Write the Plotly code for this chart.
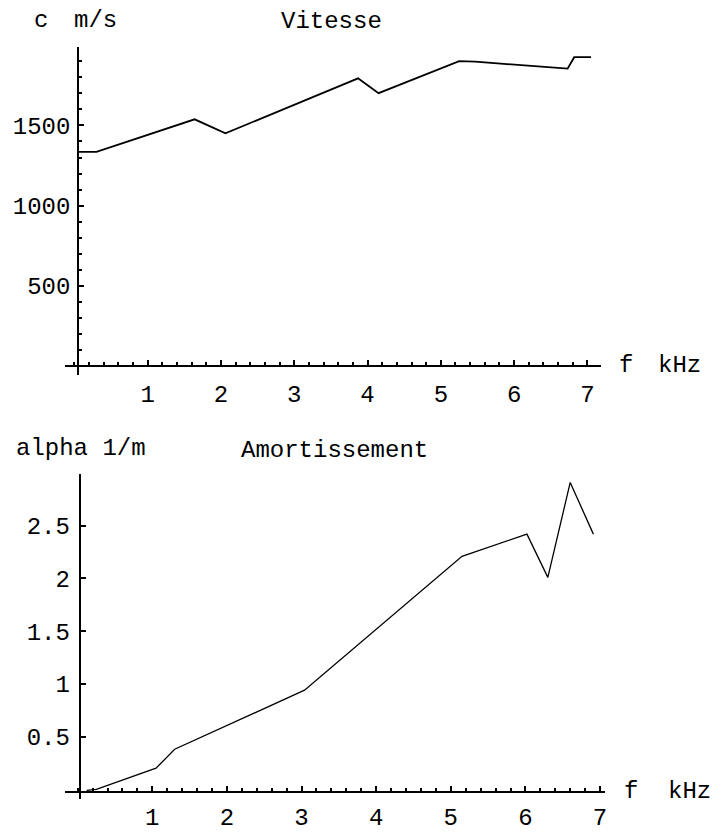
import plotly.graph_objects as go

# ---------------- data ----------------
freq_c = [0.05, 0.30, 1.64, 2.06, 3.87, 4.15, 5.25, 5.47, 6.73, 6.82, 7.05]
vitesse = [1335, 1335, 1538, 1451, 1793, 1701, 1900, 1897, 1854, 1925, 1925]

freq_a = [0.12, 0.25, 1.05, 1.30, 3.04, 5.15, 6.02, 6.30, 6.60, 6.91]
alpha = [-0.01, 0.00, 0.20, 0.38, 0.94, 2.21, 2.42, 2.01, 2.91, 2.42]

x_tickvals = [1, 2, 3, 4, 5, 6, 7]
x_ticktext = ["1", "2", "3", "4", "5", "6", "7"]
c_tickvals = [500, 1000, 1500]
c_ticktext = ["500", "1000", "1500"]
a_tickvals = [0.5, 1, 1.5, 2, 2.5]
a_ticktext = ["0.5", "1", "1.5", "2", "2.5"]

# ---------------- layout helpers ----------------
W, H = 714, 832
FONT = "Liberation Mono, Courier New, monospace"
FS = 24


def px(p):
    return p / W


def py(p):
    return 1 - p / H


def frac(v, rng, dom):
    return dom[0] + (v - rng[0]) / (rng[1] - rng[0]) * (dom[1] - dom[0])


# top panel geometry
x1_dom = [px(65), px(603)]
x1_rng = [-0.132, 7.19]
y1_dom = [py(382), py(48)]
y1_rng = [-52, 1988]
origin1 = (0.05, 0)

# bottom panel geometry
x2_dom = [px(65), px(607)]
x2_rng = [-0.172, 7.07]
y2_dom = [py(815), py(483)]
y2_rng = [-0.095, 2.993]
origin2 = (0.028, -0.025)

fig = go.Figure()
fig.add_trace(go.Scatter(x=freq_c, y=vitesse, mode="lines",
                         line=dict(color="black", width=1.8),
                         xaxis="x", yaxis="y", showlegend=False))
fig.add_trace(go.Scatter(x=freq_a, y=alpha, mode="lines",
                         line=dict(color="black", width=1.3),
                         xaxis="x2", yaxis="y2", showlegend=False))

tickfont = dict(family=FONT, size=FS, color="black")

common_x = dict(showline=True, linecolor="black", linewidth=2,
                showgrid=False, zeroline=False, ticks="inside",
                ticklen=5, tickwidth=1.5, tickcolor="black",
                tickfont=tickfont, tickvals=x_tickvals, ticktext=x_ticktext,
                minor=dict(dtick=0.2, ticks="inside", ticklen=3,
                           tickwidth=1.5, tickcolor="black", showgrid=False),
                anchor="free", side="bottom", fixedrange=True)
common_y = dict(showline=True, linecolor="black", linewidth=2,
                showgrid=False, zeroline=False, ticks="inside",
                ticklen=5, tickwidth=1.5, tickcolor="black",
                tickfont=tickfont, anchor="free", side="left",
                fixedrange=True)

fig.update_layout(
    width=W, height=H,
    margin=dict(l=0, r=0, t=0, b=0),
    paper_bgcolor="white", plot_bgcolor="white",
    xaxis=dict(common_x, domain=x1_dom, range=x1_rng,
               position=frac(origin1[1], y1_rng, y1_dom),
               ticklabelstandoff=6),
    yaxis=dict(common_y, domain=y1_dom, range=y1_rng,
               position=frac(origin1[0], x1_rng, x1_dom),
               tickvals=c_tickvals, ticktext=c_ticktext,
               minor=dict(dtick=100, ticks="inside", ticklen=3,
                          tickwidth=1.5, tickcolor="black", showgrid=False),
               ticklabelstandoff=2),
    xaxis2=dict(common_x, domain=x2_dom, range=x2_rng,
                position=frac(origin2[1], y2_rng, y2_dom),
                ticklabelstandoff=3),
    yaxis2=dict(common_y, domain=y2_dom, range=y2_rng,
                position=frac(origin2[0], x2_rng, x2_dom),
                tickvals=a_tickvals, ticktext=a_ticktext,
                ticklabelstandoff=4),
)

labels = [
    ("c", 41, 21),
    ("m/s", 96, 21),
    ("Vitesse", 332, 22),
    ("f", 628, 373),
    ("kHz", 681, 373),
    ("alpha 1/m", 81, 457),
    ("Amortissement", 335, 459),
    ("f", 633, 807),
    ("kHz", 691, 807),
]
for txt, xx, yy in labels:
    fig.add_annotation(text=txt, x=px(xx), y=py(yy), xref="paper",
                       yref="paper", showarrow=False, xanchor="center",
                       yanchor="middle",
                       font=dict(family=FONT, size=FS, color="black"))

fig.write_html(
    "out.html",
    config={"displayModeBar": False},
    post_script="document.body.style.margin='0';document.body.style.overflow='hidden';",
)
